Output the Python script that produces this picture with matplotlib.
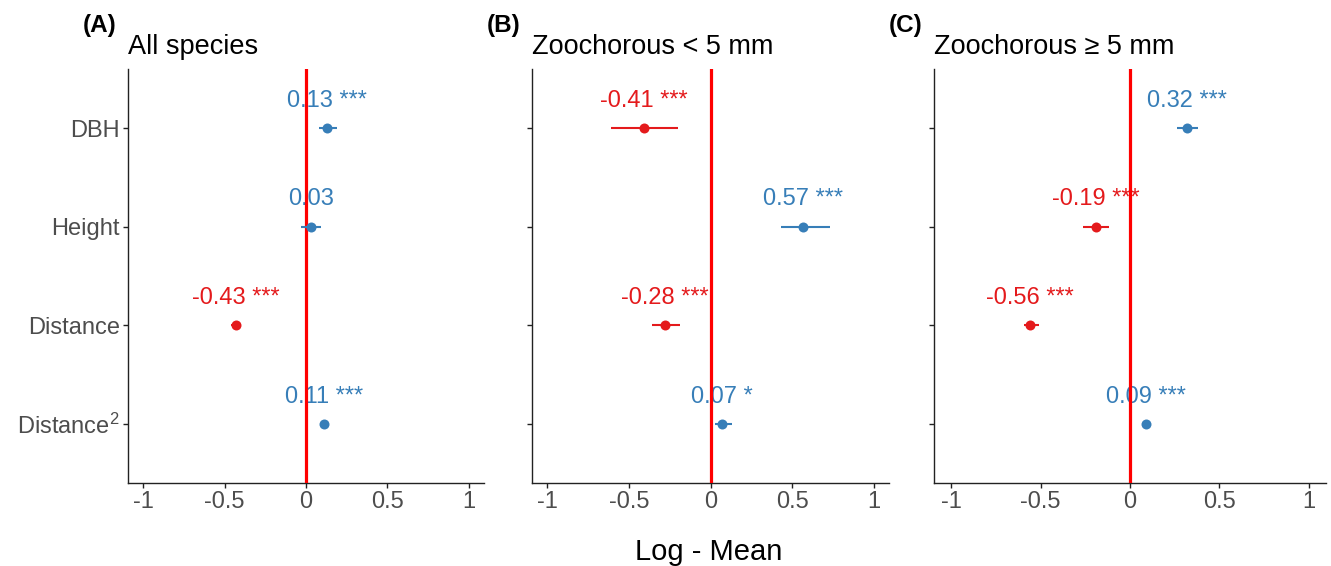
import matplotlib
matplotlib.use("Agg")
import matplotlib.pyplot as plt

plt.rcParams["font.family"] = ["Liberation Sans", "DejaVu Sans"]
plt.rcParams["mathtext.default"] = "regular"

# Model terms, top to bottom
terms = ["DBH", "Height", "Distance", "Distance$^{2}$"]

# (A) All species
est_all = [0.13, 0.03, -0.43, 0.11]
low_all = [0.08, -0.03, -0.46, 0.10]
high_all = [0.19, 0.09, -0.40, 0.12]
sig_all = ["***", "", "***", "***"]

# (B) Zoochorous < 5 mm
est_small = [-0.41, 0.57, -0.28, 0.07]
low_small = [-0.61, 0.43, -0.36, 0.03]
high_small = [-0.20, 0.73, -0.19, 0.13]
sig_small = ["***", "***", "***", "*"]

# (C) Zoochorous >= 5 mm
est_large = [0.32, -0.19, -0.56, 0.09]
low_large = [0.26, -0.26, -0.59, 0.08]
high_large = [0.38, -0.12, -0.51, 0.10]
sig_large = ["***", "***", "***", "***"]

panel_tags = ["(A)", "(B)", "(C)"]
panel_titles = ["All species", "Zoochorous < 5 mm", "Zoochorous \u2265 5 mm"]
x_ticks = [-1, -0.5, 0, 0.5, 1]
x_tick_labels = ["-1", "-0.5", "0", "0.5", "1"]

POS_COL = "#377EB8"
NEG_COL = "#E41A1C"
TEXT_GREY = "#4D4D4D"

W, H = 1331, 566
fig = plt.figure(figsize=(W / 100, H / 100), dpi=100)

# axes boxes in pixels: left, right
boxes = [(128, 484), (532, 889), (934, 1326)]
top_px, bot_px = 69, 483

panels = [
    (est_all, low_all, high_all, sig_all),
    (est_small, low_small, high_small, sig_small),
    (est_large, low_large, high_large, sig_large),
]

ypos = list(range(len(terms)))

for i, ((l, r), (est, lo, hi, sig)) in enumerate(zip(boxes, panels)):
    ax = fig.add_axes([l / W, 1 - bot_px / H, (r - l) / W, (bot_px - top_px) / H])
    for y, e, a, b, s in zip(ypos, est, lo, hi, sig):
        col = POS_COL if e > 0 else NEG_COL
        ax.plot([a, b], [y, y], color=col, lw=1.5, solid_capstyle="butt", zorder=5)
        ax.plot([e], [y], "o", color=col, ms=7.2, mec="none", zorder=6)
        label = f"{e:.2f}" + (f" {s}" if s else "")
        ax.annotate(label, (e, y), xytext=(0, 15.3), textcoords="offset points",
                    ha="center", va="baseline", color=col, fontsize=17, zorder=3)
    ax.axvline(0, color="#FF0000", lw=2.3, zorder=4)

    ax.set_xlim(-1.095, 1.095)
    ax.set_ylim(len(terms) - 0.4, -0.6)
    ax.set_xticks(x_ticks)
    ax.set_xticklabels(x_tick_labels)
    ax.set_yticks(ypos)
    if i == 0:
        ax.set_yticklabels(terms)
    else:
        ax.set_yticklabels([])
    ax.tick_params(axis="both", labelsize=17, labelcolor=TEXT_GREY,
                   color="#222222", length=3.5, width=1.0, pad=2.5)
    for side in ["top", "right"]:
        ax.spines[side].set_visible(False)
    for side in ["left", "bottom"]:
        ax.spines[side].set_color("#222222")
        ax.spines[side].set_linewidth(1.0)

    fig.text(l / W, 1 - 54 / H, panel_titles[i], fontsize=19.5, color="black",
             ha="left", va="baseline")
    fig.text((l - 45) / W, 1 - 32 / H, panel_tags[i], fontsize=17.5, fontweight="bold",
             color="black", ha="left", va="baseline")

fig.text(709 / W, 1 - 560 / H, "Log - Mean", fontsize=21, color="black",
         ha="center", va="baseline")

fig.savefig("out.png", dpi=100, facecolor="white")
